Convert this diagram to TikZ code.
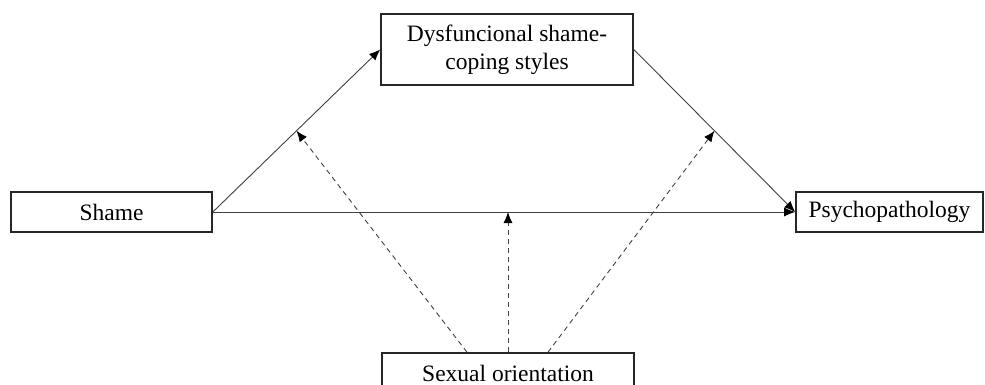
\documentclass[tikz,border=0pt]{standalone}
\usepackage{fontspec}
\setmainfont{Liberation Serif}
\usetikzlibrary{arrows.meta,calc}
\begin{document}
\begin{tikzpicture}[x=1pt,y=-1pt,
  box/.style={draw=black!85,line width=1.6pt,inner sep=0pt,align=center,
    font=\fontsize{23.5}{28}\selectfont,text=black},
  conn/.style={draw=black!75,line width=0.9pt,-{Latex[length=11pt,width=9pt,color=black]}},
  mod/.style={conn,dash pattern=on 5pt off 4pt}]
\useasboundingbox[fill=white] (0,0) rectangle (985,385);
\node[box,minimum width=201pt,minimum height=40pt] (shame) at (111.5,212) {Shame};
\node[box,minimum width=187pt,minimum height=40pt] (psy) at (889.5,212) {Psychopathology};
\node[box,minimum width=252pt,minimum height=71pt] (dys) at (507,49.5) {Dysfuncional shame-\\coping styles};
\node[box,minimum width=252pt,minimum height=40pt] (sex) at (508,373) {Sexual orientation};
\draw[conn] (shame.east) -- (dys.west);
\draw[conn] (dys.east) -- (psy.west);
\draw[conn] (shame.east) -- (psy.west);
\coordinate (m1) at ($(shame.east)!0.5!(dys.west)$);
\coordinate (m2) at ($(dys.east)!0.5!(psy.west)$);
\coordinate (m3) at (sex.north |- shame.east);
\coordinate (s1) at ($(sex.north)+(-41,0)$);
\coordinate (s3) at ($(sex.north)+(40,0)$);
\draw[mod] (s1) -- (m1);
\draw[mod] (sex.north) -- (m3);
\draw[mod] (s3) -- (m2);
\end{tikzpicture}
\end{document}
